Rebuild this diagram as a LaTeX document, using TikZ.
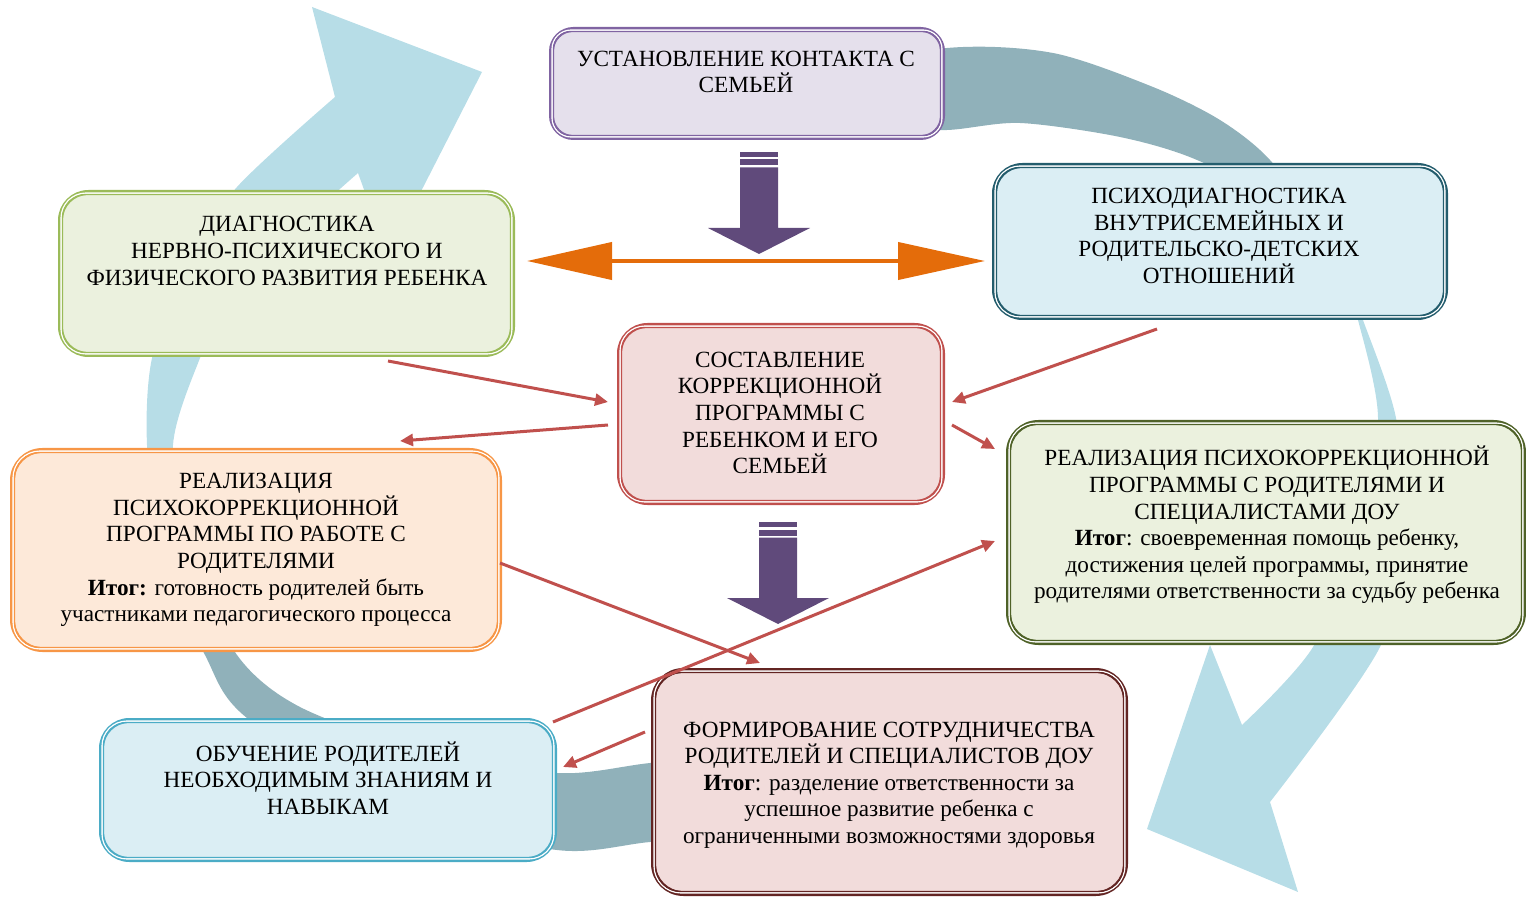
\documentclass[tikz,border=0pt]{standalone}
\usepackage{fontspec}
\setmainfont{Liberation Serif}
\usetikzlibrary{arrows.meta,calc}
\definecolor{ringlight}{HTML}{B7DDE7}
\definecolor{ringdark}{HTML}{90B1BA}
\definecolor{bpurple}{HTML}{8064A2}\definecolor{fpurple}{HTML}{E5E0EC}
\definecolor{bgreen}{HTML}{9BBB59}\definecolor{fgreen}{HTML}{EBF1DE}
\definecolor{bteal}{HTML}{245D6D}\definecolor{fblue}{HTML}{DBEEF4}
\definecolor{bred}{HTML}{C0504D}\definecolor{fred}{HTML}{F2DCDB}
\definecolor{borange}{HTML}{F79646}\definecolor{forange}{HTML}{FDE9D9}
\definecolor{bolive}{HTML}{4F6228}
\definecolor{bblue}{HTML}{4BACC6}
\definecolor{bdarkred}{HTML}{632523}
\definecolor{arrowpurple}{HTML}{604A7B}
\definecolor{arroworange}{HTML}{E46C0A}
\newcommand{\mybox}[8]{%
  \node[boxshape, rounded corners=#8, draw=#6, fill=#7, minimum width=#4*0.5pt-2.4pt, minimum height=#5*0.5pt-2.4pt] (#1) at (#2,#3) {};
  \draw[white, line width=0.7pt, rounded corners=#8-1.5pt] ([shift={(1.55pt,-1.55pt)}]#1.north west) rectangle ([shift={(-1.55pt,1.55pt)}]#1.south east);
  \draw[#6, line width=0.7pt, rounded corners=#8-2.2pt] ([shift={(2.25pt,-2.25pt)}]#1.north west) rectangle ([shift={(-2.25pt,2.25pt)}]#1.south east);
}
\begin{document}
\begin{tikzpicture}[x=0.5pt,y=-0.5pt,
  boxshape/.style={rectangle, line width=2.4pt, inner sep=0pt},
  txt/.style={align=center, inner sep=0pt, font=\fontsize{11.6}{13.3}\selectfont},
  redarrow/.style={draw=bred, line width=1.5pt, -{Triangle[length=6.5pt,width=6pt]}},
  oarrow/.style={draw=arroworange, line width=2pt, {Triangle[length=42.5pt,width=18.5pt]}-{Triangle[length=43.5pt,width=18.5pt]}},
  blockarrow/.pic={
    \fill[arrowpurple] (-19,0) rectangle (19,5);
    \fill[arrowpurple] (-19,7.5) rectangle (19,13.5);
    \fill[arrowpurple] (-19,15.5) -- (19,15.5) -- (19,76) -- (51,76) -- (0,102) -- (-51,76) -- (-19,76) -- cycle;
  }]
\useasboundingbox (0,0) rectangle (1526,898);
% background ring arrows
\fill[ringdark] plot[smooth] coordinates {(186,550) (237,655) (300,707) (420,750) (557,773) (650,763) (760,752)}
  -- plot[smooth] coordinates {(760,832) (650,842) (557,850) (400,812) (247,718) (205,655) (160,550)} -- cycle;
\fill[ringlight] plot[smooth] coordinates {(160,550) (147,445) (152,358) (185,265) (237,187) (335,97)}
  -- (312,7) -- (482,72) -- (388,256) -- (358,173)
  -- plot[smooth] coordinates {(358,173) (300,225) (232,292) (200,358) (173,445) (186,550)} -- cycle;
\fill[ringdark] plot[smooth] coordinates {(800,75) (947,48) (1053,53) (1153,87) (1220,120) (1270,160) (1320,230) (1357,305)}
  -- plot[smooth] coordinates {(1350,305) (1290,210) (1197,160) (1120,137) (1020,123) (947,130) (870,128) (800,122)} -- cycle;
\fill[ringlight] plot[smooth] coordinates {(1357,305) (1363,320) (1396,418) (1404,530) (1380,647) (1270,802)}
  -- (1298,892) -- (1147,829) -- (1210,645) -- (1242,725)
  -- plot[smooth] coordinates {(1242,725) (1313,647) (1360,530) (1378,418) (1358,320) (1350,305)} -- cycle;
% boxes
\mybox{b1}{747}{83.5}{396}{113}{bpurple}{fpurple}{11pt}
\mybox{b2}{286.5}{273.5}{457}{167}{bgreen}{fgreen}{14pt}
\mybox{b3}{1220}{241.5}{456}{157}{bteal}{fblue}{14pt}
\mybox{b4}{781}{414}{328}{182}{bred}{fred}{14pt}
\mybox{b5}{256}{550}{492}{204}{borange}{forange}{15pt}
\mybox{b6}{1266}{532.5}{520}{225}{bolive}{fgreen}{15pt}
\mybox{b7}{328}{790}{458}{144}{bblue}{fblue}{14pt}
\mybox{b8}{889.5}{782}{477}{228}{bdarkred}{fred}{15pt}
% texts
\node[txt] (t1) at (746,72) {УСТАНОВЛЕНИЕ КОНТАКТА С\\СЕМЬЕЙ};
\node[txt] (t2) at (287,251) {ДИАГНОСТИКА\\НЕРВНО-ПСИХИЧЕСКОГО И\\ФИЗИЧЕСКОГО РАЗВИТИЯ РЕБЕНКА};
\node[txt] (t3) at (1219,236) {ПСИХОДИАГНОСТИКА\\ВНУТРИСЕМЕЙНЫХ И\\РОДИТЕЛЬСКО-ДЕТСКИХ\\ОТНОШЕНИЙ};
\node[txt] (t4) at (780,413) {СОСТАВЛЕНИЕ\\КОРРЕКЦИОННОЙ\\ПРОГРАММЫ С\\РЕБЕНКОМ И ЕГО\\СЕМЬЕЙ};
\node[txt] (t5) at (256,550) {РЕАЛИЗАЦИЯ\\ПСИХОКОРРЕКЦИОННОЙ\\ПРОГРАММЫ ПО РАБОТЕ С\\РОДИТЕЛЯМИ\\\textbf{Итог:} готовность родителей быть\\участниками педагогического процесса};
\node[txt] (t6) at (1267,525) {РЕАЛИЗАЦИЯ ПСИХОКОРРЕКЦИОННОЙ\\ПРОГРАММЫ С РОДИТЕЛЯМИ И\\СПЕЦИАЛИСТАМИ ДОУ\\\textbf{Итог}: своевременная помощь ребенку,\\достижения целей программы, принятие\\родителями ответственности за судьбу ребенка};
\node[txt] (t7) at (328,778) {ОБУЧЕНИЕ РОДИТЕЛЕЙ\\НЕОБХОДИМЫМ ЗНАНИЯМ И\\НАВЫКАМ};
\node[txt] (t8) at (889,785) {ФОРМИРОВАНИЕ СОТРУДНИЧЕСТВА\\РОДИТЕЛЕЙ И СПЕЦИАЛИСТОВ ДОУ\\\textbf{Итог}: разделение ответственности за\\успешное развитие ребенка с\\ограниченными возможностями здоровья};
% block arrows
\coordinate (ba1) at (759,152);
\coordinate (ba2) at (778,522);
\pic at (ba1) {blockarrow};
\pic at (ba2) {blockarrow};
% orange double arrow
\coordinate (oy) at (0,261);
\draw[oarrow] ($(b2.east |- oy)+(12,0)$) -- ($(b3.west |- oy)+(-7,0)$);
% red arrows
\draw[redarrow] ([shift={(101.5,4)}]b2.south) -- ([shift={(-9,-12)}]b4.west);
\draw[redarrow] ([shift={(-9,11)}]b4.west) -- ([shift={(144,-7)}]b5.north);
\draw[redarrow] ([shift={(-63,9)}]b3.south) -- ([shift={(7,-12)}]b4.east);
\draw[redarrow] ([shift={(7,11)}]b4.east) -- ([shift={(-11,-83.5)}]b6.west);
\draw[redarrow] ([shift={(-2,13)}]b5.east) -- ([shift={(-129.5,-5)}]b8.north);
\draw[redarrow] ([shift={(-4,-68)}]b7.east) -- ([shift={(-11,8.5)}]b6.west);
\draw[redarrow] ([shift={(-6,-50)}]b8.west) -- ([shift={(6,-23)}]b7.east);
\end{tikzpicture}
\end{document}
